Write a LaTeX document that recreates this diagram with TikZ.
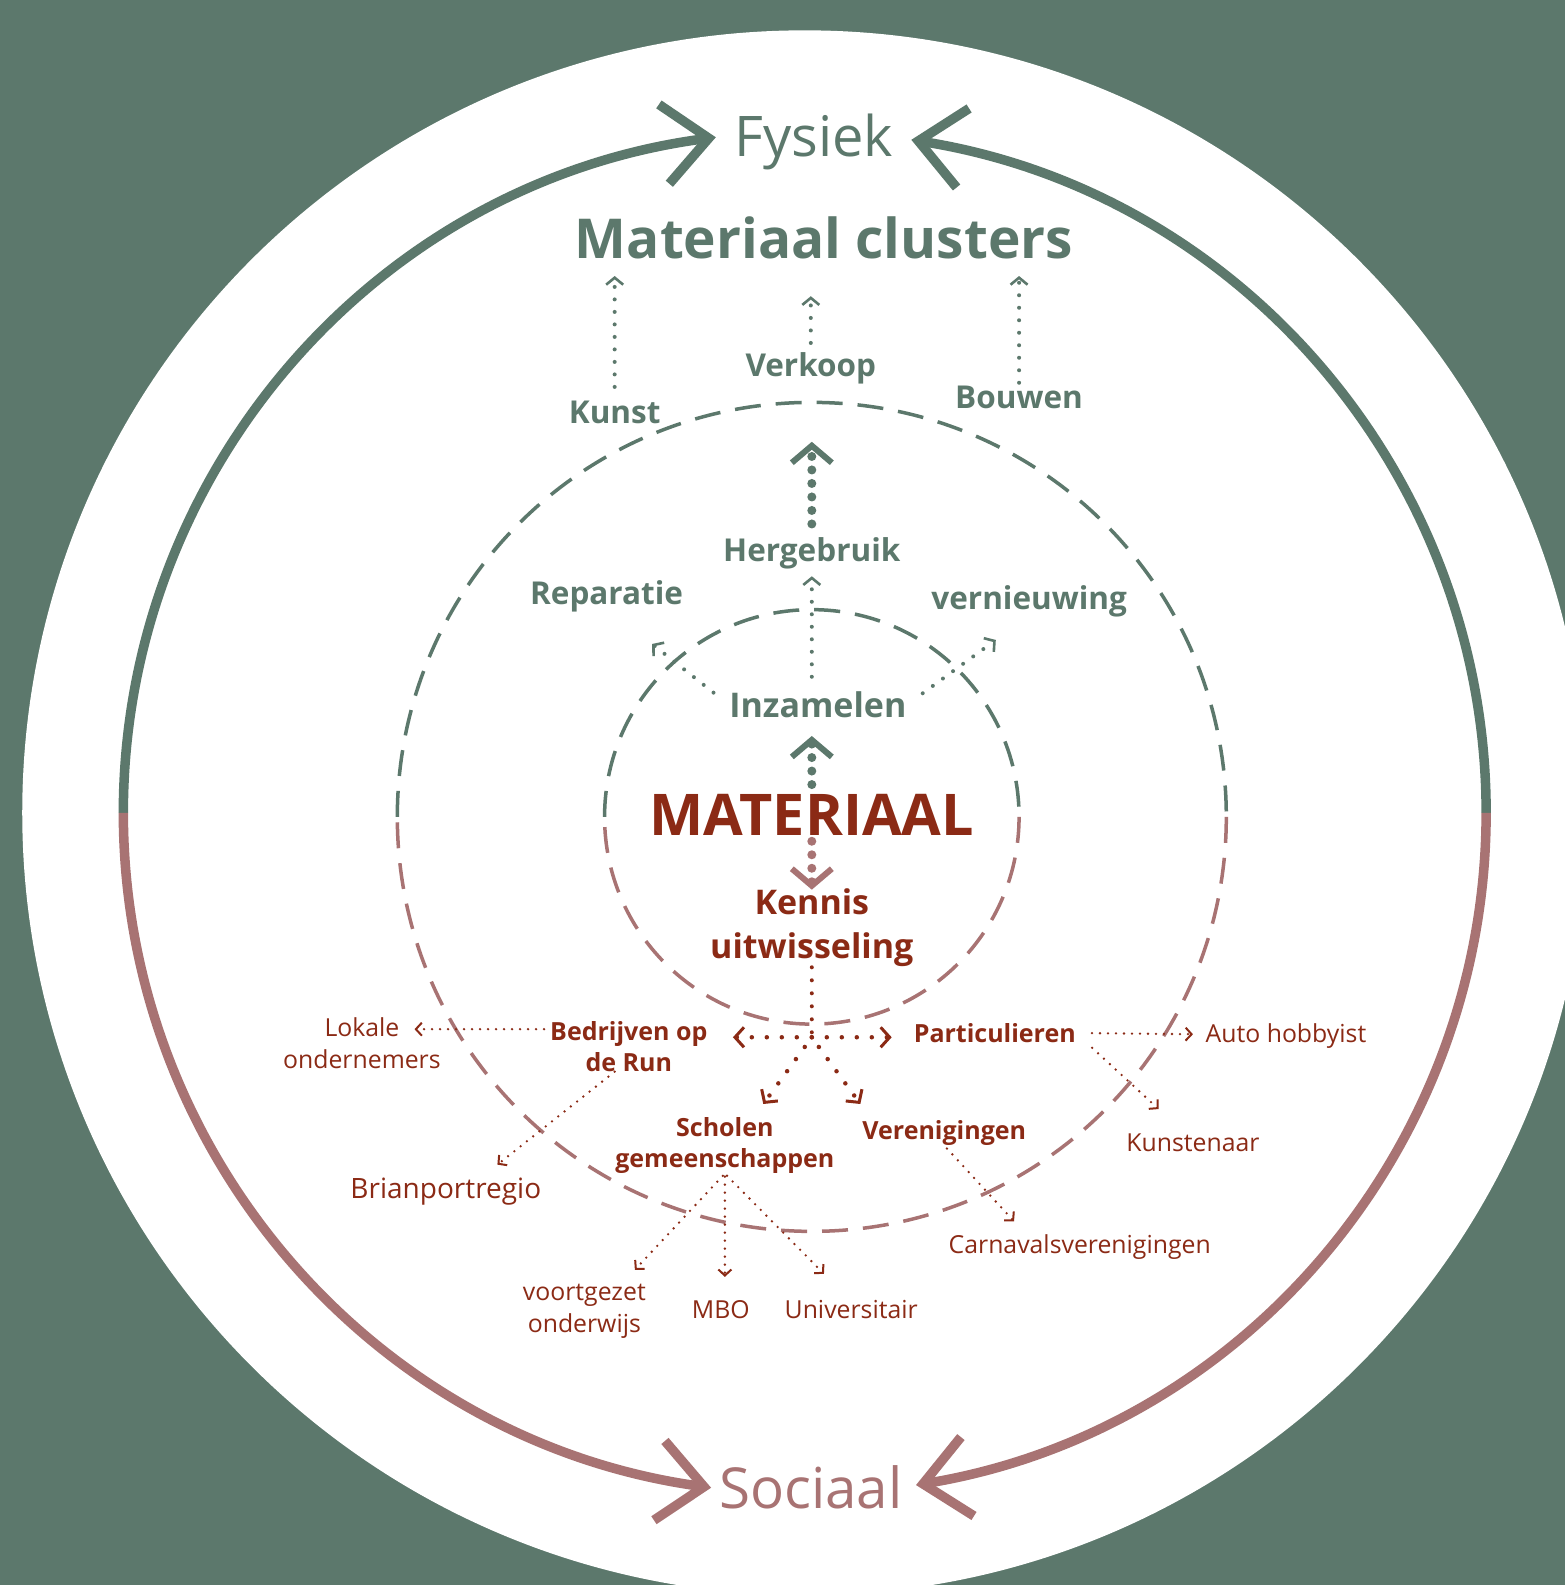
\documentclass[tikz,border=0pt]{standalone}
\usepackage{fontspec}
\setmainfont{Open Sans}
\usetikzlibrary{arrows.meta,calc}
\definecolor{grn}{HTML}{5C786C}
\definecolor{pnk}{HTML}{A87373}
\definecolor{drd}{HTML}{8B2A15}
\tikzset{
  lab/.style={inner sep=0pt, align=center, anchor=base},
  gbig/.style={lab, text=grn, font=\fontsize{56}{60}\selectfont},
  pbig/.style={lab, text=pnk, font=\fontsize{56.5}{60}\selectfont},
  gtitle/.style={lab, text=grn, font=\bfseries\fontsize{55}{60}\selectfont},
  gb/.style={lab, text=grn, font=\bfseries\fontsize{31.5}{36}\selectfont},
  rbig/.style={lab, text=drd, font=\bfseries\fontsize{57.5}{60}\selectfont},
  rkn/.style={lab, text=drd, font=\bfseries\fontsize{34}{44}\selectfont},
  rbs/.style={lab, text=drd, font=\bfseries\fontsize{25}{31}\selectfont},
  rr/.style={lab, text=drd, font=\fontsize{24.8}{31.5}\selectfont},
  rrl/.style={lab, text=drd, font=\fontsize{28}{34}\selectfont},
  gdash/.style={grn, line width=3.5pt, dash pattern=on 26pt off 15pt},
  pdash/.style={pnk, line width=3.5pt, dash pattern=on 26pt off 15pt},
  ringarrow/.style={line width=9.5pt, -{Straight Barb[length=45pt,width=80pt,line width=9.5pt]}},
  gthin/.style={grn, line width=4pt, dash pattern=on 0pt off 12.5pt, line cap=round,
     -{Straight Barb[length=7pt,width=17pt,line width=2.6pt]}},
  gthick/.style={grn, line width=9pt, dash pattern=on 0pt off 13.5pt, line cap=round,
     -{Straight Barb[length=17pt,width=40pt,line width=6pt]}},
  pthick/.style={pnk, line width=9pt, dash pattern=on 0pt off 13.5pt, line cap=round,
     -{Straight Barb[length=17pt,width=40pt,line width=6pt]}},
  rmidline/.style={drd, line width=4pt, dash pattern=on 0pt off 13pt, line cap=round},
  rmid/.style={drd, line width=4.5pt, dash pattern=on 0pt off 15pt, line cap=round,
     -{Straight Barb[length=9pt,width=20pt,line width=3pt]}},
  rthin/.style={drd, line width=2.6pt, dash pattern=on 0pt off 8pt, line cap=round,
     -{Straight Barb[length=6pt,width=13pt,line width=2pt]}},
}
\begin{document}
\begin{tikzpicture}[x=1.011pt,y=-1.011pt]
\useasboundingbox (0,0) rectangle (1548,1567.8);
\fill[grn] (0,0) rectangle (1548,1567.8);
\begin{scope}
\clip (0,0) rectangle (1548,1567.8);
\fill[white] (796,804) circle[radius=774];
\end{scope}

% dashed circles
\draw[gdash] (803,808) ++(180:410) arc[start angle=180,end angle=360,radius=410];
\draw[pdash] (803,808) ++(0:410) arc[start angle=0,end angle=180,radius=410];
\draw[gdash] (803,808) ++(180:205) arc[start angle=180,end angle=360,radius=205];
\draw[pdash] (803,808) ++(0:205) arc[start angle=0,end angle=180,radius=205];

% ring arrows
\draw[grn, ringarrow] (796,804) ++(180:674) arc[start angle=180,end angle=262.5,radius=674];
\draw[grn, ringarrow] (796,804) ++(0:674) arc[start angle=360,end angle=279.0,radius=674];
\draw[pnk, ringarrow] (796,804) ++(180:674) arc[start angle=180,end angle=97.9,radius=674];
\draw[pnk, ringarrow] (796,804) ++(0:674) arc[start angle=0,end angle=80.6,radius=674];

% nodes
\node[gbig] (fysiek) at (805,155) {Fysiek};
\node[gtitle] (clusters) at (815,256) {Materiaal clusters};
\node[gb] (kunst) at (608,419) {Kunst};
\node[gb] (verkoop) at (802,372) {Verkoop};
\node[gb] (bouwen) at (1008,404) {Bouwen};
\node[gb] (herge) at (803,555) {Hergebruik};
\node[gb] (repar) at (600,598) {Reparatie};
\node[gb] (vernieuw) at (1018,603) {vernieuwing};
\node[gb, font=\bfseries\fontsize{34}{36}\selectfont] (inzam) at (809,710) {Inzamelen};
\node[rbig] (mat) at (803,826) {MATERIAAL};
\node[rkn, anchor=center] (kennis) at (803,918) {Kennis\\uitwisseling};
\node[rbs, anchor=center] (bedrijven) at (622,1035) {Bedrijven op\\de Run};
\node[rr, anchor=center] (lokale) at (358,1032) {Lokale\\ondernemers};
\node[rrl] (brian) at (441,1185) {Brianportregio};
\node[rbs] (partic) at (984,1031) {Particulieren};
\node[rr] (auto) at (1272,1031) {Auto hobbyist};
\node[rr] (kunstenaar) at (1180,1139) {Kunstenaar};
\node[rbs, anchor=center] (scholen) at (717,1133) {Scholen\\gemeenschappen};
\node[rbs] (veren) at (934,1127) {Verenigingen};
\node[rr] (carnaval) at (1068,1240) {Carnavalsverenigingen};
\node[rr, anchor=center] (voortgezet) at (578,1297) {voortgezet\\onderwijs};
\node[rr] (mbo) at (713,1304) {MBO};
\node[rr] (univ) at (842,1304) {Universitair};
\node[pbig] (sociaal) at (802,1492) {Sociaal};

% free ends
\coordinate (kunstTip) at (608,273);
\coordinate (verkTip) at (802,293);
\coordinate (bouwTip) at (1008,273);
\coordinate (hergeTip) at (803,437);
\coordinate (inzTip) at (803,570);
\coordinate (repTip) at (645,637);
\coordinate (verTip) at (985,633);
\coordinate (matUp) at (803,728);
\coordinate (matDown) at (803,880);
\coordinate (hub) at (803,1026);
\coordinate (bedTip) at (725,1026);
\coordinate (parTip) at (882,1026);
\coordinate (schTip) at (755,1092);
\coordinate (verTip2) at (851,1092);
\coordinate (lokTip) at (410,1018);
\coordinate (brianTip) at (492,1152);
\coordinate (autoTip) at (1180,1023);
\coordinate (kunTip) at (1146,1097);
\coordinate (carnTip) at (1003,1208);
\coordinate (vwoTip) at (628,1256);
\coordinate (mboTip) at (717,1263);
\coordinate (univTip) at (815,1260);

% connectors
\draw[gthin, shorten <=14pt] (kunst.north) -- (kunstTip);
\draw[gthin, shorten <=9pt] (verkoop.north) -- (verkTip);
\draw[gthin, shorten <=3pt] (bouwen.north) -- (bouwTip);
\draw[gthick, shorten <=13pt] (herge.north) -- (hergeTip);
\draw[gthin, shorten <=15pt] (inzam.north -| inzTip) -- (inzTip);
\draw[gthin, shorten <=20pt] (inzam.west) -- (repTip);
\draw[gthin, shorten <=20pt] (inzam.east) -- (verTip);
\draw[gthick] ($(mat.north)+(0,-9)$) -- (matUp);
\draw[pthick, shorten <=6pt] (mat.south) -- (matDown);
\draw[rmidline] (kennis.south) -- (hub);
\draw[rmid] (hub) -- (bedTip);
\draw[rmid] (hub) -- (parTip);
\draw[rmid, shorten <=12pt] (hub) -- (schTip);
\draw[rmid, shorten <=12pt] (hub) -- (verTip2);
\draw[rthin, shorten <=6pt] (bedrijven.west |- lokTip) -- (lokTip);
\draw[rthin] ($(bedrijven.south)+(-14,0)$) -- (brianTip);
\draw[rthin, shorten <=16pt] (partic.east) -- (autoTip);
\draw[rthin, shorten <=22pt] (partic.east) -- (kunTip);
\draw[rthin, shorten <=4pt] (veren.south) -- (carnTip);
\draw[rthin, shorten <=3pt] (scholen.south) -- (vwoTip);
\draw[rthin, shorten <=3pt] (scholen.south) -- (mboTip);
\draw[rthin, shorten <=3pt] (scholen.south) -- (univTip);
\end{tikzpicture}
\end{document}
